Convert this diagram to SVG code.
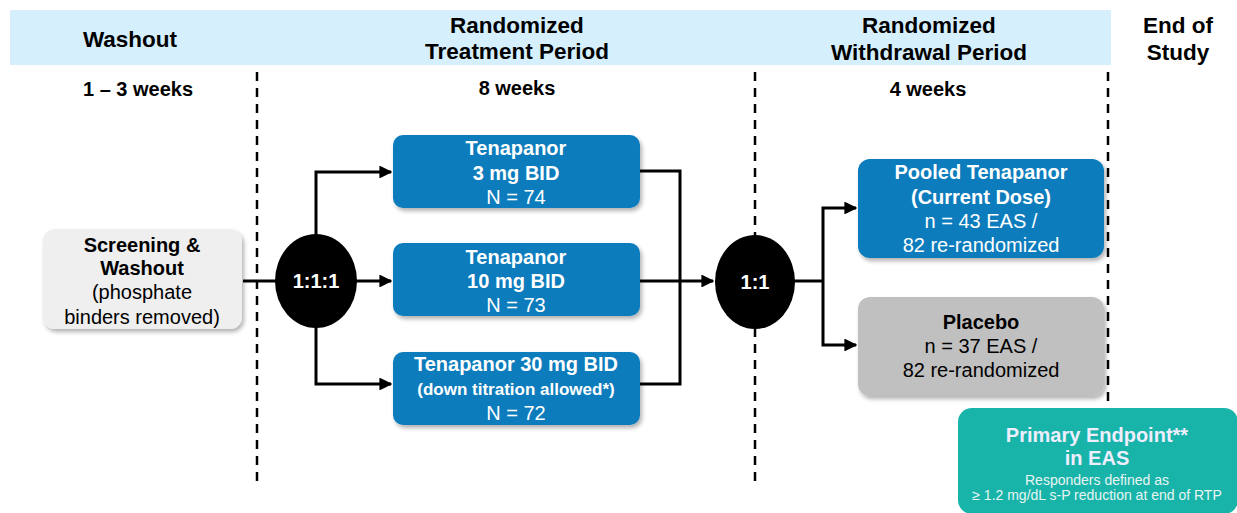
<svg xmlns="http://www.w3.org/2000/svg" width="1237" height="513" viewBox="0 0 1237 513">
<style>
text{font-family:"Liberation Sans",Arial,sans-serif;text-anchor:middle}
.h{font-size:22.5px;font-weight:bold;fill:#000}
.w{font-size:20px;font-weight:bold;fill:#000}
.b{font-size:20px;font-weight:bold;fill:#fff}
.r{font-size:20px;fill:#fff}
.bk{font-size:20px;font-weight:bold;fill:#000}
.rk{font-size:20px;fill:#000}
.dash{stroke:#000;stroke-width:2.5;stroke-dasharray:9,7;fill:none}
.ln{stroke:#000;stroke-width:3;fill:none}
.blue{fill:#0a7bbc}
</style>
<defs>
<marker id="ah" viewBox="0 0 10 10" refX="9" refY="5" markerWidth="4.3" markerHeight="4.3" markerUnits="strokeWidth" orient="auto"><path d="M0,0L10,5L0,10z" fill="#000"/></marker>
<filter id="sh" x="-10%" y="-10%" width="125%" height="130%"><feDropShadow dx="2" dy="3" stdDeviation="2" flood-color="#000" flood-opacity="0.3"/></filter>
</defs>
<rect x="10" y="10" width="1101" height="55" fill="#d5effc"/>
<g id="headers">
<text class="h" x="130" y="47">Washout</text>
<text class="h" x="517" y="33">Randomized</text>
<text class="h" x="517" y="59">Treatment Period</text>
<text class="h" x="929" y="33">Randomized</text>
<text class="h" x="929" y="60">Withdrawal Period</text>
<text class="h" x="1178" y="33">End of</text>
<text class="h" x="1178" y="60">Study</text>
<text class="w" x="138" y="96">1 – 3 weeks</text>
<text class="w" x="517" y="95">8 weeks</text>
<text class="w" x="928" y="96">4 weeks</text>
</g>
<g id="dividers">
<line class="dash" x1="257" y1="72" x2="257" y2="482"/>
<line class="dash" x1="755" y1="72" x2="755" y2="482"/>
<line class="dash" x1="1108" y1="72" x2="1108" y2="408"/>
</g>
<g id="connectors">
<line class="ln" x1="243" y1="281" x2="276" y2="281"/>
<path class="ln" d="M316,236V172H391" marker-end="url(#ah)"/>
<path class="ln" d="M356,281H391" marker-end="url(#ah)"/>
<path class="ln" d="M316,326V384H391" marker-end="url(#ah)"/>
<path class="ln" d="M640,171H680V384H640"/>
<path class="ln" d="M640,281H713" marker-end="url(#ah)"/>
<path class="ln" d="M794,281H823"/>
<path class="ln" d="M823,281V208H856" marker-end="url(#ah)"/>
<path class="ln" d="M823,281V345H856" marker-end="url(#ah)"/>
</g>
<g id="screening">
<rect x="43" y="229" width="199" height="100" rx="12" fill="#efefef" filter="url(#sh)"/>
<text class="bk" x="142" y="252">Screening &amp;</text>
<text class="bk" x="142" y="275">Washout</text>
<text class="rk" x="142" y="299">(phosphate</text>
<text class="rk" x="142" y="324">binders removed)</text>
</g>
<g id="rand1">
<ellipse cx="316" cy="281" rx="41" ry="47" fill="#000"/>
<text class="b" x="316" y="288">1:1:1</text>
</g>
<g id="tena3">
<rect class="blue" x="393" y="135" width="247" height="73" rx="10" filter="url(#sh)"/>
<text class="b" x="516" y="155">Tenapanor</text>
<text class="b" x="516" y="180">3 mg BID</text>
<text class="r" x="516" y="204">N = 74</text>
</g>
<g id="tena10">
<rect class="blue" x="393" y="243" width="247" height="73" rx="10" filter="url(#sh)"/>
<text class="b" x="516" y="264">Tenapanor</text>
<text class="b" x="516" y="288">10 mg BID</text>
<text class="r" x="516" y="312">N = 73</text>
</g>
<g id="tena30">
<rect class="blue" x="393" y="352" width="247" height="73" rx="10" filter="url(#sh)"/>
<text class="b" x="516" y="371">Tenapanor 30 mg BID</text>
<text class="b" x="516" y="395" style="font-size:17px">(down titration allowed*)</text>
<text class="r" x="516" y="420">N = 72</text>
</g>
<g id="rand2">
<ellipse cx="755" cy="282" rx="40" ry="47" fill="#000"/>
<text class="b" x="755" y="289">1:1</text>
</g>
<g id="pooled">
<rect class="blue" x="858" y="159" width="246" height="99" rx="12" filter="url(#sh)"/>
<text class="b" x="981" y="179">Pooled Tenapanor</text>
<text class="b" x="981" y="204">(Current Dose)</text>
<text class="r" x="981" y="228">n = 43 EAS /</text>
<text class="r" x="981" y="252">82 re-randomized</text>
</g>
<g id="placebo">
<rect x="858" y="297" width="246" height="99" rx="12" fill="#c0c0c0" filter="url(#sh)"/>
<text class="bk" x="981" y="329">Placebo</text>
<text class="rk" x="981" y="353">n = 37 EAS /</text>
<text class="rk" x="981" y="377">82 re-randomized</text>
</g>
<g id="endpoint">
<rect x="958" y="408" width="280" height="106" rx="14" fill="#18b4a9"/>
<text class="b" x="1097" y="442" style="fill:#eef">Primary Endpoint**</text>
<text class="b" x="1097" y="465" style="fill:#eef">in EAS</text>
<text x="1097" y="485" style="font-size:14px;fill:#e8f4f4">Responders defined as</text>
<text x="1097" y="500" style="font-size:14px;fill:#e8f4f4">≥ 1.2 mg/dL s-P reduction at end of RTP</text>
</g>
</svg>
